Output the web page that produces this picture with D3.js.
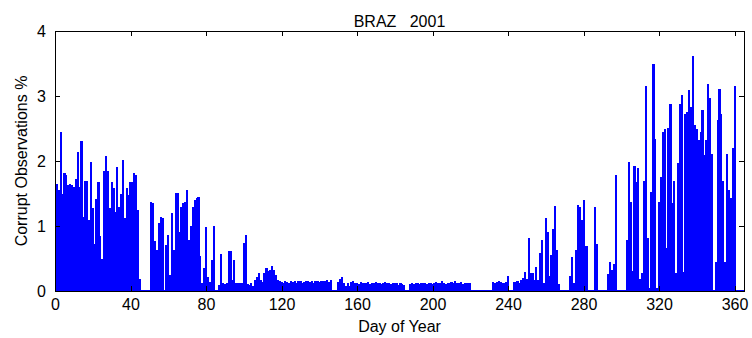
<!DOCTYPE html>
<html>
<head>
<meta charset="utf-8">
<script src="https://cdn.jsdelivr.net/npm/d3@7"></script>
<style>
  body { margin: 0; background: #fff; }
  svg { display: block; font-family: "Liberation Sans", Arial, sans-serif; }
</style>
</head>
<body>
<svg class="chart"></svg>
<script>
// corrupt observations %, one value per day of year (1..365)
const values = [
  1.64,1.55,2.44,1.50,1.82,1.78,1.63,1.64,1.63,1.60,
  1.72,2.14,1.60,2.31,1.14,1.70,1.70,1.09,1.99,1.27,
  0.73,1.41,1.67,0.84,0.50,1.84,2.07,1.84,1.27,1.67,
  1.58,1.22,1.91,1.30,1.49,2.02,1.13,1.58,1.48,1.67,
  1.68,1.81,1.78,1.25,0.18,0,0,0,0,0,
  1.37,1.36,0.77,0.63,1.04,1.14,1.13,0,0.71,0.86,
  0.25,1.20,0.63,1.51,1.51,0.91,1.30,1.35,1.37,1.55,
  0.78,1.00,1.30,1.40,1.43,1.44,0.54,0.13,0.35,0.99,
  0.22,0.14,0.47,1.00,0.02,0.02,0.09,0.57,0.12,0.11,
  0.12,0.62,0.62,0.17,0.48,0.12,0.12,0.12,0.12,0.74,
  0.86,0.11,0.09,0.12,0.08,0.17,0.22,0.28,0.17,0.14,
  0.27,0.35,0.31,0.33,0.38,0.32,0.25,0.17,0.15,0.14,
  0.13,0.15,0.14,0.12,0.15,0.14,0.16,0.13,0.15,0.15,
  0.12,0.14,0.16,0.15,0.14,0.15,0.13,0.16,0.15,0.14,
  0.15,0.16,0.15,0.17,0.14,0.17,0,0,0,0.14,
  0.18,0.21,0.13,0.08,0.12,0.08,0.14,0.16,0.12,0.13,
  0.11,0.14,0.12,0.13,0.12,0.14,0.11,0.13,0.12,0.14,
  0.13,0.12,0.11,0.13,0.14,0.12,0.13,0.11,0.12,0.13,
  0.12,0.10,0.12,0.11,0.10,0,0,0.11,0.12,0.11,
  0.12,0.12,0.11,0.12,0.13,0.12,0.11,0.13,0.12,0.11,
  0.12,0.14,0.12,0.13,0.15,0.12,0.11,0.13,0.12,0.14,
  0.12,0.15,0.13,0.12,0.14,0.11,0.12,0.13,0.12,0.12,
  0,0,0,0,0,0,0,0,0,0,
  0,0.14,0.13,0.14,0.16,0.14,0.12,0.13,0.14,0.23,
  0,0,0.14,0.14,0.16,0.13,0.17,0.20,0.30,0.18,
  0.81,0.28,0.28,0.17,0.37,0.17,0.59,0.78,0.13,1.13,
  0.91,0.23,0.55,0.95,1.31,0.63,0.11,0,0,0,
  0,0,0.23,0.53,0.12,0.63,1.32,1.29,1.09,1.40,
  0.69,0.69,0,0,0,1.30,0.73,0,0,0,
  0,0,0.26,0.45,0.32,0.41,1.78,0,0,0,
  0,0,0.78,1.99,1.37,0.31,1.92,1.68,1.90,0.19,
  0.27,1.69,3.16,0.82,0.05,1.53,3.50,2.34,0.05,1.37,
  1.76,2.45,2.50,0.66,2.51,2.88,1.36,1.69,0.28,1.97,
  2.88,3.01,0.30,2.73,2.75,3.09,2.83,3.61,2.55,2.49,
  2.32,2.45,2.78,2.09,2.32,3.19,2.97,2.11,0,0.44,
  2.63,3.11,2.73,1.69,0.45,2.11,1.56,1.43,2.20,3.15,
  0,0,0,0,0
];
const days = values.map((v, i) => i + 1);
const x_ticks = [0, 40, 80, 120, 160, 200, 240, 280, 320, 360];
const y_ticks = [0, 1, 2, 3, 4];
const title = 'BRAZ   2001';

const svg_width = 752;
const svg_height = 338;
const plot = {left: 55, right: 744, top: 31, bottom: 291};
const bar_color = '#0000ff';

let chart = d3.select('.chart')
  .attr('width', svg_width)
  .attr('height', svg_height);

let x = d3.scaleLinear()
  .domain([0, 365])
  .range([plot.left, plot.right]);

let y = d3.scaleLinear()
  .domain([0, 4])
  .range([plot.bottom, plot.top]);

// bars
chart.append('g')
  .attr('shape-rendering', 'crispEdges')
  .selectAll('rect')
  .data(days)
  .enter()
  .append('rect')
  .attr('x', d => x(d - 0.55))
  .attr('width', x(1.15) - x(0))
  .attr('y', (d, i) => y(values[i]))
  .attr('height', (d, i) => y(0) - y(values[i]))
  .style('fill', bar_color);

// zero-height bars still leave their edge on the baseline
chart.append('line')
  .attr('x1', x(0.5))
  .attr('x2', x(365.5))
  .attr('y1', y(0) - 0.5)
  .attr('y2', y(0) - 0.5)
  .style('stroke', bar_color)
  .style('stroke-width', 1);

// axes, ticks pointing inward like matlab
let fmt = d3.format('d');
let x_axis = d3.axisBottom(x).tickValues(x_ticks).tickFormat(fmt).tickSizeInner(-5).tickSizeOuter(0).tickPadding(8);
let x_top = d3.axisTop(x).tickValues(x_ticks).tickSizeInner(-5).tickSizeOuter(0).tickFormat('');
let y_axis = d3.axisLeft(y).tickValues(y_ticks).tickFormat(fmt).tickSizeInner(-5).tickSizeOuter(0).tickPadding(9);
let y_right = d3.axisRight(y).tickValues(y_ticks).tickSizeInner(-5).tickSizeOuter(0).tickFormat('');

chart.append('g').attr('class', 'axis').attr('transform', 'translate(0,' + plot.bottom + ')').call(x_axis);
chart.append('g').attr('class', 'axis').attr('transform', 'translate(0,' + plot.top + ')').call(x_top);
chart.append('g').attr('class', 'axis').attr('transform', 'translate(' + plot.left + ',0)').call(y_axis);
chart.append('g').attr('class', 'axis').attr('transform', 'translate(' + plot.right + ',0)').call(y_right);

chart.selectAll('.axis path, .axis line')
  .style('stroke', '#000')
  .style('stroke-width', 1)
  .attr('shape-rendering', 'crispEdges');

chart.selectAll('.axis text')
  .style('font-family', '"Liberation Sans", Arial, sans-serif')
  .style('font-size', '16px')
  .style('fill', '#000');

chart.append('text')
  .attr('x', (plot.left + plot.right) / 2)
  .attr('y', 27)
  .attr('text-anchor', 'middle')
  .style('font-size', '16px')
  .style('white-space', 'pre')
  .text(title);

chart.append('text')
  .attr('x', (plot.left + plot.right) / 2)
  .attr('y', 332)
  .attr('text-anchor', 'middle')
  .style('font-size', '16px')
  .text('Day of Year');

chart.append('text')
  .attr('transform', 'translate(27,' + (plot.top + plot.bottom) / 2 + ') rotate(-90)')
  .attr('text-anchor', 'middle')
  .style('font-size', '16px')
  .text('Corrupt Observations %');
</script>
</body>
</html>
